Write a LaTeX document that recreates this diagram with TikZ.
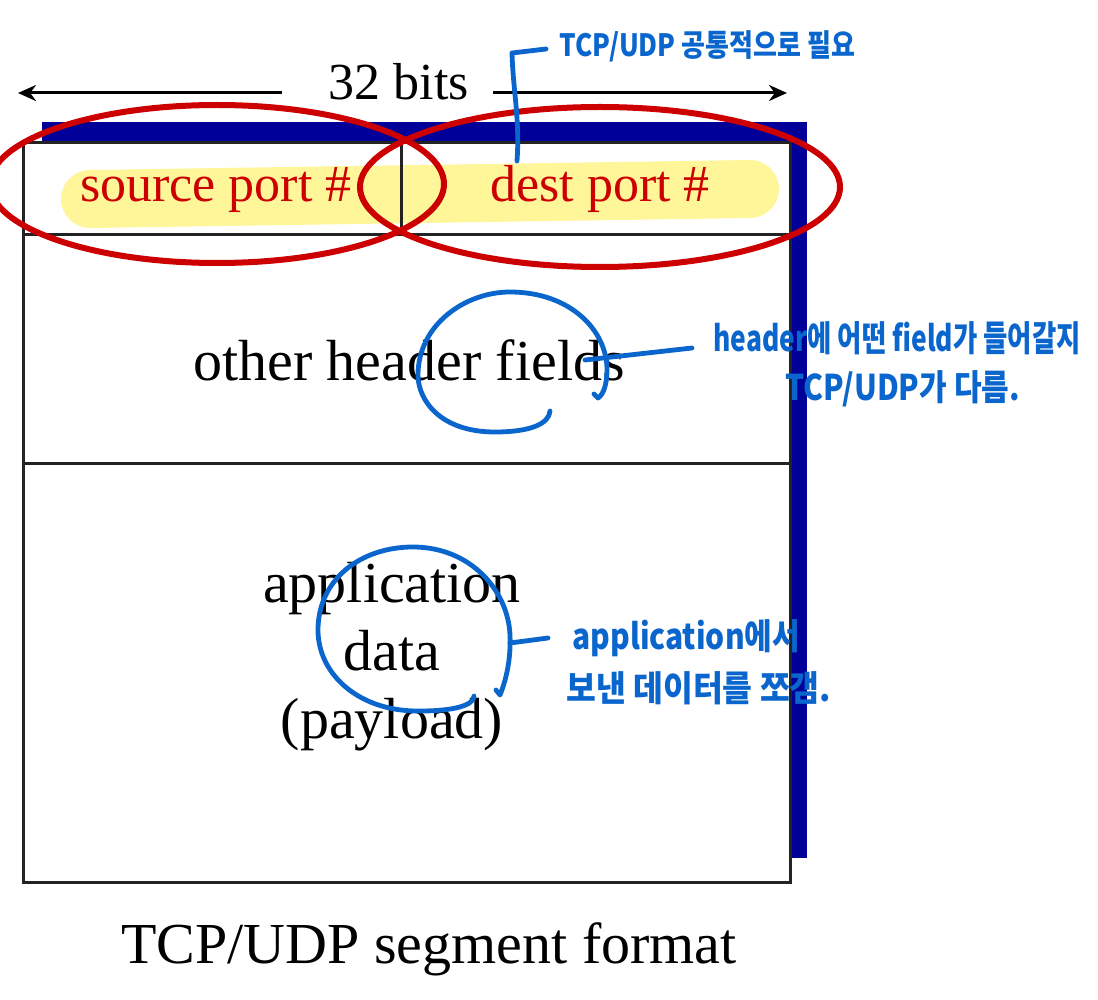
\documentclass[tikz,border=0pt]{standalone}
\usepackage{fontspec}
\usepackage{graphicx}
\setmainfont{Liberation Serif}
\newfontfamily\notefont{Noto Sans CJK KR}
\usetikzlibrary{arrows.meta}
\definecolor{navy}{RGB}{0,0,153}
\definecolor{ringred}{RGB}{204,0,0}
\definecolor{portred}{RGB}{204,0,0}
\definecolor{hlyellow}{RGB}{255,246,153}
\definecolor{penblue}{RGB}{10,102,204}
\definecolor{boxgray}{RGB}{35,35,35}
\newcommand{\tallnote}[1]{\scalebox{1}[1.18]{#1}}
\tikzset{
  boxline/.style={draw=boxgray, line width=1.5pt},
  biglbl/.style={font=\fontsize{29}{32}\selectfont, anchor=base, inner sep=0pt},
  midlbl/.style={font=\fontsize{26}{30}\selectfont, anchor=base, inner sep=0pt},
  portlbl/.style={midlbl, text=portred},
  redring/.style={draw=ringred, line width=3pt},
  pen/.style={draw=penblue, line width=2.4pt, line cap=round, line join=round},
  note/.style={font=\notefont\bfseries\fontsize{15}{18}\selectfont, text=penblue, anchor=west, inner sep=0pt},
  widtharrow/.style={draw=black, line width=1.5pt, -{Stealth[length=9pt,width=8pt]}},
}
\begin{document}
\begin{tikzpicture}[x=0.5pt,y=-0.5pt]
\useasboundingbox (0,0) rectangle (1098,1000);
\clip (0,0) rectangle (1098,1000);
\fill[white] (0,0) rectangle (1098,1000);

% shadow and box
\fill[navy] (42,122) rectangle (807,858);
\fill[white] (23,143) rectangle (790,882);

% highlighter
\draw[hlyellow, line width=29pt, line cap=round] (90,199) -- (750,189);

% box lines
\draw[boxline] (23,143) rectangle (790,882);
\draw[boxline] (23,235) -- (790,235);
\draw[boxline] (23,463) -- (790,463);
\draw[boxline] (401,143) -- (401,235);

% width arrows
\coordinate (lstart) at (282,93);
\coordinate (lend) at (18,93);
\coordinate (rstart) at (493,93);
\coordinate (rend) at (787,93);
\draw[widtharrow] (lstart) -- (lend);
\draw[widtharrow] (rstart) -- (rend);
\node[midlbl] (t32) at (399,100) {32 bits};

% labels
\node[portlbl] (src) at (216,202) {source port \#};
\node[portlbl] (dst) at (600,202) {dest port \#};
\node[biglbl] (other) at (409,380) {other header fields};
\node[biglbl] (app1) at (392,602) {application};
\node[biglbl] (app2) at (392,670) {data};
\node[biglbl] (app3) at (392,738) {(payload)};
\node[biglbl] (caption) at (429,963) {TCP/UDP segment format};

% red rings
\draw[redring] (217,184) ellipse [x radius=227, y radius=79];
\draw[redring] (600,187) ellipse [x radius=240, y radius=80];

% blue annotations
\coordinate (b0) at (517,161);
\coordinate (b1) at (512,53);
\coordinate (b2) at (546,49);
\draw[pen] (b0) .. controls (520,120) and (513,90) .. (b1) -- (b2);
\node[note, font=\notefont\bfseries\fontsize{13}{16}\selectfont] (n1) at (559,46) {\tallnote{TCP/UDP 공통적으로 필요}};

\draw[pen] (550,411) .. controls (549,424) and (530,432) .. (495,432)
  .. controls (440,432) and (418,400) .. (418,375)
  .. controls (418,325) and (465,292) .. (510,292)
  .. controls (570,292) and (607,330) .. (607,370)
  .. controls (607,385) and (603,395) .. (598,398) -- (594,394);
\coordinate (h0) at (585,360);
\coordinate (h1) at (692,348);
\draw[pen] (h0) -- (h1);
\node[note] (n2a) at (713,338) {\scalebox{0.88}[1.18]{header에 어떤 field가 들어갈지}};
\node[note] (n2b) at (785,389) {\tallnote{TCP/UDP가 다름.}};

\draw[pen] (474,696) .. controls (474,705) and (455,711) .. (420,711)
  .. controls (360,712) and (318,675) .. (318,630)
  .. controls (318,580) and (360,547) .. (413,547)
  .. controls (470,547) and (508,590) .. (510,635)
  .. controls (511,660) and (506,680) .. (500,695) -- (496,690);
\coordinate (d0) at (510,643);
\coordinate (d1) at (548,638);
\draw[pen] (d0) -- (d1);
\node[note] (n3a) at (572,638) {\tallnote{application에서}};
\node[note] (n3b) at (566,688) {\scalebox{1.08}[1.18]{보낸 데이터를 쪼갬.}};
\end{tikzpicture}
\end{document}
